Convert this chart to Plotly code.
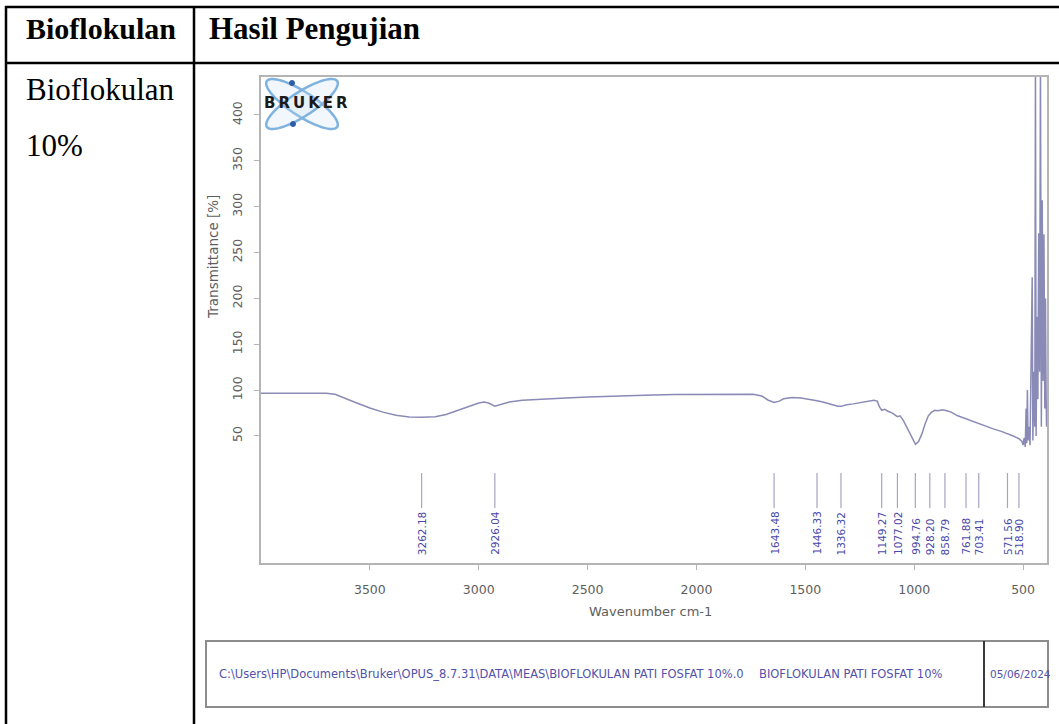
import numpy as np
import plotly.graph_objects as go

W, H = 1059, 724

# FTIR spectrum (wavenumber in cm-1, transmittance in %)
wavenumber = [
    4000, 3900, 3800, 3700, 3660, 3620, 3560, 3500, 3440, 3380, 3320, 3262,
    3200, 3150, 3100, 3050, 3000, 2975, 2955, 2926, 2900, 2860, 2800, 2700,
    2600, 2500, 2400, 2300, 2200, 2100, 2000, 1900, 1800, 1740, 1700, 1670,
    1643, 1620, 1600, 1560, 1520, 1490, 1470, 1446, 1420, 1380, 1350, 1336,
    1310, 1280, 1250, 1210, 1185, 1170, 1160, 1149, 1135, 1120, 1100, 1077,
    1065, 1050, 1030, 1010, 994, 980, 965, 950, 935, 920, 905, 890, 870, 850,
    830, 800, 761, 730, 703, 670, 640, 600, 571, 545, 519, 505, 500, 495, 490,
    486, 483, 480, 477, 472, 468, 462, 458, 455, 450, 446, 443, 440, 436, 432,
    428, 424, 420, 416, 412, 408, 404, 400, 397, 394, 392,
]
transmittance = [
    96.5, 96.7, 96.8, 96.5, 95.5, 92.0, 86.0, 80.5, 76.0, 72.5, 70.8, 70.3,
    71.0, 73.5, 77.5, 82.0, 86.0, 87.0, 86.0, 82.5, 84.0, 87.0, 89.0, 90.5,
    91.5, 92.5, 93.5, 94.2, 94.8, 95.2, 95.5, 95.7, 95.8, 95.5, 93.5, 89.0,
    86.5, 88.0, 90.5, 92.0, 91.5, 90.5, 89.5, 88.5, 87.0, 84.0, 82.5, 82.3,
    84.0, 85.0, 86.5, 88.0, 89.0, 88.0, 82.0, 78.0, 79.0, 77.0, 75.0, 71.0,
    72.0, 67.0, 58.0, 48.0, 41.0, 44.0, 52.0, 63.0, 72.0, 76.0, 78.0, 77.5,
    78.5, 77.5, 76.0, 72.0, 68.5, 66.0, 63.0, 60.0, 58.0, 55.0, 52.5, 50.0,
    47.0, 44.0, 40.0, 48.0, 38.0, 80.0, 42.0, 100.0, 45.0, 60.0, 40.0, 150.0,
    223.0, 45.0, 120.0, 60.0, 460.0, 50.0, 180.0, 90.0, 271.0, 120.0, 460.0,
    60.0, 307.0, 110.0, 270.0, 80.0, 200.0, 95.0, 60.0,
]

# Picked peak positions
peak_wavenumbers = [3262.18, 2926.04, 1643.48, 1446.33, 1336.32, 1149.27,
                    1077.02, 994.76, 928.20, 858.79, 761.88, 703.41,
                    571.56, 518.90]

x_ticks = [3500, 3000, 2500, 2000, 1500, 1000, 500]
y_ticks = [50, 100, 150, 200, 250, 300, 350, 400]

header_labels = ["Bioflokulan", "Hasil Pengujian"]
sample_label = ["Bioflokulan", "10%"]
file_path = "C:\\Users\\HP\\Documents\\Bruker\\OPUS_8.7.31\\DATA\\MEAS\\BIOFLOKULAN PATI FOSFAT 10%.0"
sample_name = "BIOFLOKULAN PATI FOSFAT 10%"
measure_date = "05/06/2024"


def px(x):
    return x / W


def py(y):
    return 1 - y / H


# plot frame in page pixels
PL, PR, PT, PB = 261, 1047, 77, 563
Y_RANGE = [-88.5, 441.4]
X_RANGE = [4000, 390]

spec_color = "#8a8ab6"
label_color = "#4848a8"
axis_gray = "#b4b4b4"
sans = "DejaVu Sans, Verdana, sans-serif"
tick_font = dict(family=sans, size=12.5, color="#5e5e5e")

fig = go.Figure()

fig.add_trace(go.Scatter(
    x=wavenumber, y=transmittance, mode="lines",
    line=dict(color=spec_color, width=1.5), hoverinfo="skip",
    showlegend=False,
))

# peak marker ticks
pk_x, pk_y = [], []
for wn in peak_wavenumbers:
    pk_x += [wn, wn, None]
    pk_y += [9.6, -28.6, None]
fig.add_trace(go.Scatter(
    x=pk_x, y=pk_y, mode="lines",
    line=dict(color="#a4a4c4", width=1.2), hoverinfo="skip",
    showlegend=False,
))

annotations = []
for wn in peak_wavenumbers:
    annotations.append(dict(
        x=wn, y=-82, xref="x", yref="y", text=f"{wn:.2f}",
        textangle=-90, xanchor="center", yanchor="bottom", showarrow=False,
        font=dict(family=sans, size=10.5, color=label_color),
    ))

# axis titles
annotations.append(dict(
    x=px(650), y=py(611), xref="paper", yref="paper", text="Wavenumber cm-1",
    showarrow=False, xanchor="center", yanchor="middle",
    font=dict(family=sans, size=13, color="#5e5e5e"),
))
annotations.append(dict(
    x=px(213), y=py(257), xref="paper", yref="paper", text="Transmittance [%]",
    showarrow=False, xanchor="center", yanchor="middle", textangle=-90,
    font=dict(family=sans, size=13.5, color="#5e5e5e"),
))

# table text
serif = "Liberation Serif, Times New Roman, serif"
annotations += [
    dict(x=px(24), y=py(29), xref="paper", yref="paper", text=f"<b>{header_labels[0]}</b>",
         showarrow=False, xanchor="left", yanchor="middle",
         font=dict(family=serif, size=30, color="black")),
    dict(x=px(207), y=py(29), xref="paper", yref="paper", text=f"<b>{header_labels[1]}</b>",
         showarrow=False, xanchor="left", yanchor="middle",
         font=dict(family=serif, size=31, color="black")),
    dict(x=px(24), y=py(90), xref="paper", yref="paper", text=sample_label[0],
         showarrow=False, xanchor="left", yanchor="middle",
         font=dict(family=serif, size=31, color="black")),
    dict(x=px(24), y=py(145), xref="paper", yref="paper", text=sample_label[1],
         showarrow=False, xanchor="left", yanchor="middle",
         font=dict(family=serif, size=31, color="black")),
]

# info box text
info_font = dict(family=sans, size=11.5, color="#5252aa")
annotations += [
    dict(x=px(217), y=py(674), xref="paper", yref="paper", text=file_path,
         showarrow=False, xanchor="left", yanchor="middle", font=info_font),
    dict(x=px(757), y=py(674), xref="paper", yref="paper", text=sample_name,
         showarrow=False, xanchor="left", yanchor="middle", font=info_font),
    dict(x=px(988), y=py(674), xref="paper", yref="paper", text=measure_date,
         showarrow=False, xanchor="left", yanchor="middle",
         font=dict(family=sans, size=10.5, color="#5252aa")),
]

# logo lettering
annotations.append(dict(
    x=px(306), y=py(103), xref="paper", yref="paper",
    text="<b>B\u2009R\u2009U\u2009K\u2009E\u2009R</b>", showarrow=False,
    xanchor="center", yanchor="middle",
    font=dict(family="DejaVu Sans", size=15, color="#1a1a1a"),
))

shapes = []


def hline(y, x0, x1, color="black", width=2.5):
    shapes.append(dict(type="line", xref="paper", yref="paper",
                       x0=px(x0), x1=px(x1), y0=py(y), y1=py(y),
                       line=dict(color=color, width=width)))


def vline(x, y0, y1, color="black", width=2.5):
    shapes.append(dict(type="line", xref="paper", yref="paper",
                       x0=px(x), x1=px(x), y0=py(y0), y1=py(y1),
                       line=dict(color=color, width=width)))


# table grid
hline(7, 5, W + 5)
hline(63, 5, W + 5)
vline(6, 6, H + 5)
vline(194, 6, H + 5)

# info box under the spectrum
shapes.append(dict(type="rect", xref="paper", yref="paper",
                   x0=px(206), x1=px(1048), y0=py(641), y1=py(707),
                   line=dict(color="#8c8c8c", width=2)))
vline(984, 641, 707, color="#3a3a3a", width=2)

# logo orbits
t = np.linspace(0, 2 * np.pi, 80)
for ang in (np.deg2rad(33), np.deg2rad(-33)):
    ex = 302 + 42 * np.cos(t) * np.cos(ang) - 12 * np.sin(t) * np.sin(ang)
    ey = 104 + 42 * np.cos(t) * np.sin(ang) + 12 * np.sin(t) * np.cos(ang)
    path = "M " + " L ".join(f"{px(a):.5f},{py(b):.5f}" for a, b in zip(ex, ey)) + " Z"
    shapes.append(dict(type="path", xref="paper", yref="paper", path=path,
                       line=dict(color="#7fb2df", width=2.5),
                       fillcolor="rgba(200,225,245,0.25)", layer="below"))
for cx, cy in ((292, 83), (293, 124)):
    shapes.append(dict(type="circle", xref="paper", yref="paper",
                       x0=px(cx - 2.5), x1=px(cx + 2.5), y0=py(cy - 2.5), y1=py(cy + 2.5),
                       line=dict(color="#2d5ea8", width=1), fillcolor="#2d5ea8"))

fig.update_layout(
    width=W, height=H,
    margin=dict(l=0, r=0, t=0, b=0),
    paper_bgcolor="white", plot_bgcolor="white",
    showlegend=False,
    xaxis=dict(
        domain=[px(PL), px(PR)], range=X_RANGE,
        tickvals=x_ticks, ticks="outside", ticklen=5, tickcolor=axis_gray,
        tickfont=tick_font, ticklabelstandoff=9,
        showline=True, linecolor=axis_gray, linewidth=1.5, mirror=True,
        showgrid=False, zeroline=False,
    ),
    yaxis=dict(
        domain=[py(PB), py(PT)], range=Y_RANGE,
        tickvals=y_ticks, ticks="outside", ticklen=5, tickcolor=axis_gray,
        tickfont=tick_font, tickangle=-90, ticklabelstandoff=7,
        showline=True, linecolor=axis_gray, linewidth=1.5, mirror=True,
        showgrid=False, zeroline=False,
    ),
    annotations=annotations,
    shapes=shapes,
)

fig.write_html("out.html")
